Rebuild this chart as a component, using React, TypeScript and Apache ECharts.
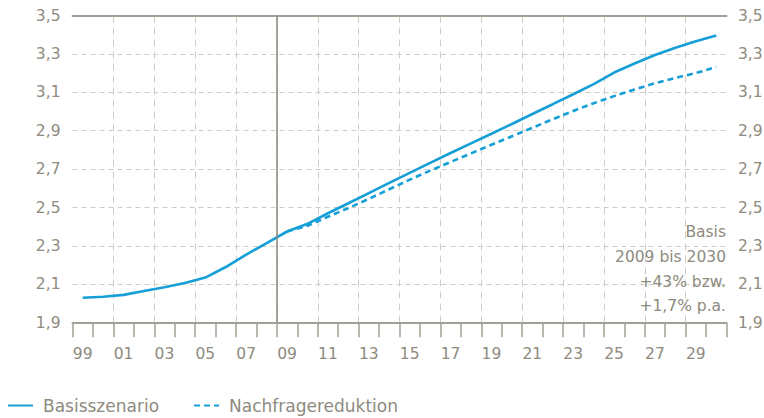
import React, { useEffect, useRef } from "react";
import * as echarts from "echarts";

const years = [
  "1999", "2000", "2001", "2002", "2003", "2004", "2005", "2006", "2007", "2008",
  "2009", "2010", "2011", "2012", "2013", "2014", "2015", "2016", "2017", "2018",
  "2019", "2020", "2021", "2022", "2023", "2024", "2025", "2026", "2027", "2028",
  "2029", "2030",
];

const basisszenario = [
  2.03, 2.035, 2.045, 2.065, 2.085, 2.107, 2.135, 2.19, 2.255, 2.315,
  2.375, 2.415, 2.47, 2.522, 2.575, 2.628, 2.68, 2.732, 2.784, 2.834,
  2.884, 2.935, 2.987, 3.038, 3.09, 3.143, 3.203, 3.25, 3.294, 3.332,
  3.366, 3.396,
];

const nachfragereduktion = [
  null, null, null, null, null, null, null, null, null, null,
  2.375, 2.405, 2.452, 2.497, 2.545, 2.595, 2.645, 2.692, 2.737, 2.782,
  2.827, 2.871, 2.915, 2.96, 3.003, 3.043, 3.08, 3.115, 3.147, 3.175,
  3.2, 3.232,
];

const seriesNames = ["Basisszenario", "Nachfragereduktion"];
const annotationLines = ["Basis", "2009 bis 2030", "+43% bzw.", "+1,7% p.a."];
const yMin = 1.9;
const yMax = 3.5;
const yStep = 0.2;
const markerIndex = 10; // boundary at start of 2009

const FONT = "DejaVu Sans";
const TEXT = "#8e8b7e";
const AXIS = "#a3a195";
const GRID = "#cfcdc3";
const BLUE = "#169fd6";

export default function App() {
  const ref = useRef<HTMLDivElement>(null);
  useEffect(() => {
    if (!ref.current) return;
    const chart = echarts.init(ref.current, null, { renderer: "svg" });
    const yLabel = (v: number) => v.toFixed(1).replace(".", ",");
    chart.setOption({
      animation: false,
      grid: {
        left: 72.5,
        right: 37.5,
        top: 15.5,
        bottom: 95.3,
        containLabel: false,
        outerBoundsMode: "none",
      },
      legend: {
        data: seriesNames,
        left: 7,
        top: 397,
        padding: 0,
        itemWidth: 25,
        itemHeight: 12,
        itemGap: 34,
        itemStyle: { opacity: 0 },
        textStyle: {
          fontFamily: FONT,
          fontSize: 17,
          color: TEXT,
          padding: [0, 0, 0, 5],
        },
      },
      xAxis: [
        {
          type: "category",
          data: years,
          position: "bottom",
          boundaryGap: true,
          axisLine: { show: true, lineStyle: { color: AXIS, width: 2 } },
          axisTick: {
            show: true,
            interval: 0,
            length: 14.5,
            alignWithLabel: false,
            lineStyle: { color: AXIS, width: 1.5 },
          },
          axisLabel: {
            interval: 1,
            margin: 23,
            fontFamily: FONT,
            fontSize: 15.5,
            color: TEXT,
            formatter: (v: string) => v.slice(2),
          },
          splitLine: { show: false },
        },
        {
          type: "category",
          data: years,
          position: "top",
          boundaryGap: true,
          axisLine: { show: true, lineStyle: { color: AXIS, width: 2 } },
          axisTick: { show: false },
          axisLabel: { show: false },
          splitLine: { show: false },
        },
        {
          type: "value",
          min: 0,
          max: years.length,
          interval: 2,
          position: "bottom",
          axisLine: { show: false },
          axisTick: { show: false },
          axisLabel: { show: false },
          splitLine: {
            show: true,
            showMinLine: false,
            showMaxLine: false,
            lineStyle: { color: GRID, width: 1, type: [7, 5] },
          },
        },
      ],
      yAxis: [
        {
          type: "value",
          position: "left",
          min: yMin,
          max: yMax,
          interval: yStep,
          axisLine: { show: false },
          axisTick: { show: false },
          axisLabel: {
            margin: 12,
            fontFamily: FONT,
            fontSize: 15.5,
            color: TEXT,
            formatter: yLabel,
          },
          splitLine: {
            show: true,
            showMinLine: false,
            showMaxLine: false,
            lineStyle: { color: GRID, width: 1, type: [5, 4] },
          },
        },
        {
          type: "value",
          position: "right",
          min: yMin,
          max: yMax,
          interval: yStep,
          axisLine: { show: false },
          axisTick: { show: false },
          axisLabel: {
            margin: 11.5,
            fontFamily: FONT,
            fontSize: 15.5,
            color: TEXT,
            formatter: yLabel,
          },
          splitLine: { show: false },
        },
      ],
      series: [
        {
          name: "marker",
          type: "line",
          xAxisIndex: 2,
          yAxisIndex: 0,
          data: [],
          silent: true,
          markLine: {
            silent: true,
            symbol: ["none", "none"],
            label: { show: false },
            lineStyle: { color: "#8a887c", width: 1.5, type: "solid" },
            data: [{ xAxis: markerIndex }],
          },
        },
        {
          name: seriesNames[1],
          type: "line",
          xAxisIndex: 0,
          yAxisIndex: 0,
          data: nachfragereduktion,
          symbol: "none",
          showSymbol: false,
          connectNulls: false,
          lineStyle: { color: BLUE, width: 2.6, type: [6, 4] },
          itemStyle: { color: BLUE },
          z: 3,
        },
        {
          name: seriesNames[0],
          type: "line",
          xAxisIndex: 0,
          yAxisIndex: 0,
          data: basisszenario,
          symbol: "none",
          showSymbol: false,
          lineStyle: { color: BLUE, width: 2.6, type: "solid" },
          itemStyle: { color: BLUE },
          z: 4,
        },
      ],
      graphic: [
        {
          type: "text",
          x: 726,
          y: 220,
          z: 10,
          style: {
            text: annotationLines.join("\n"),
            fontFamily: FONT,
            fontSize: 15.5,
            lineHeight: 24.6,
            fill: TEXT,
            align: "right",
            verticalAlign: "top",
          },
        },
      ],
    });
    return () => chart.dispose();
  }, []);
  return <div ref={ref} style={{ width: 764, height: 418, position: "absolute", left: 0, top: 0 }} />;
}
